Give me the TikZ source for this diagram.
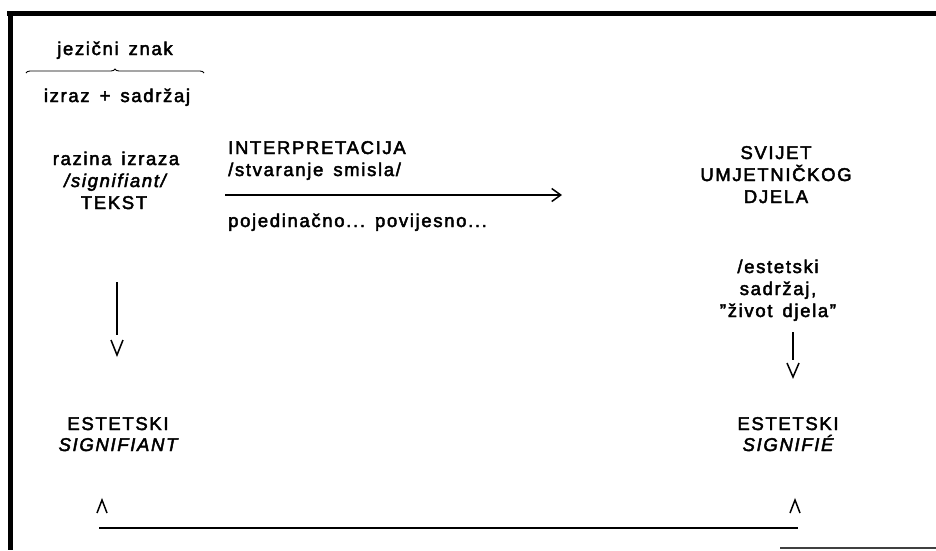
\documentclass[tikz,border=0pt]{standalone}
\usepackage{fontspec}
\setmainfont{Liberation Sans}[LetterSpace=9,FakeBold=2.5]
\usetikzlibrary{decorations.pathreplacing,arrows.meta,calc}
\newcommand\wsp{\hskip 10pt\relax}
\begin{document}
\begin{tikzpicture}[x=1pt,y=-1pt,
  txt/.style={inner sep=0pt, font=\fontsize{18.5}{22}\selectfont},
  lbl/.style={txt, anchor=base},
  lblw/.style={txt, anchor=base west},
  conn/.style={line width=1.5pt},
  tip/.style={-{Straight Barb[length=9pt,width=13pt,line width=1.5pt]}},
  hat/.style={line width=1.5pt}]
\useasboundingbox (0,0) rectangle (936,550);
% frame
\draw[line width=5pt] (7,13) coordinate (ftl) -- (936,13) coordinate (ftr);
\draw[line width=5pt] (10,11) coordinate (flt) -- (10,550) coordinate (flb);
\draw[line width=1.5pt, black!75] (780,548) coordinate (fb1) -- (936,548) coordinate (fb2);
% top-left: linguistic sign
\node[lbl] (jez) at (115,55) {jezični\wsp znak};
\coordinate (br1) at (26,73);
\coordinate (br2) at (204,73);
\draw[line width=0.9pt, decorate, decoration={brace, amplitude=4pt}] (br1) -- (br2);
\node[lbl] (izraz) at (117,102) {izraz\wsp +\wsp sadržaj};
% left column
\node[lbl] (razina) at (116,165) {razina\wsp izraza};
\node[lbl] (signif) at (115,187) {\itshape /signifiant/};
\node[lbl] (tekst) at (114,209) {TEKST};
% interpretation
\node[lblw] (interp) at (228,154) {INTERPRETACIJA};
\node[lblw] (stvar) at (228,176) {/stvaranje\wsp smisla/};
\coordinate (ia) at (225,195);
\coordinate (ib) at (562,195);
\draw[conn, tip] (ia) -- (ib);
\node[lblw] (poj) at (228,227) {pojedinačno...\wsp povijesno...};
% right column
\node[lbl] (svijet) at (776,159) {SVIJET};
\node[lbl] (umj) at (776,181) {UMJETNIČKOG};
\node[lbl] (djela) at (776,203) {DJELA};
\node[lbl] (estet) at (778,273) {/estetski};
\node[lbl] (sadr) at (778,295) {sadržaj,};
\node[lbl] (zivot) at (778,317) {"život\wsp djela"};
% lower nodes
\node[lbl] (est1) at (118,430) {ESTETSKI};
\node[lbl] (sig1) at (118,451) {\itshape SIGNIFIANT};
\node[lbl] (est2) at (788,430) {ESTETSKI};
\node[lbl] (sig2) at (788,451) {\itshape SIGNIFIÉ};
% vertical arrows (line, then a separate v head)
\coordinate (la) at (117,282);
\coordinate (lb) at (117,335);
\draw[conn] (la) -- (lb);
\coordinate (lv) at (117,355);
\draw[hat] ($(lv)+(-6,-15)$) -- (lv) -- ($(lv)+(6,-15)$);
\coordinate (ra) at (793,332);
\coordinate (rb) at (793,360);
\draw[conn] (ra) -- (rb);
\coordinate (rv) at (793,377);
\draw[hat] ($(rv)+(-6,-14)$) -- (rv) -- ($(rv)+(6,-14)$);
% bottom return line with hats
\coordinate (bl) at (99,528);
\coordinate (br) at (798,528);
\draw[line width=2.2pt] (bl) -- (br);
\coordinate (h1) at (102,500);
\coordinate (h2) at (795,500);
\draw[hat] ($(h1)+(-5,13)$) -- (h1) -- ($(h1)+(5,13)$);
\draw[hat] ($(h2)+(-5,13)$) -- (h2) -- ($(h2)+(5,13)$);
\end{tikzpicture}
\end{document}
